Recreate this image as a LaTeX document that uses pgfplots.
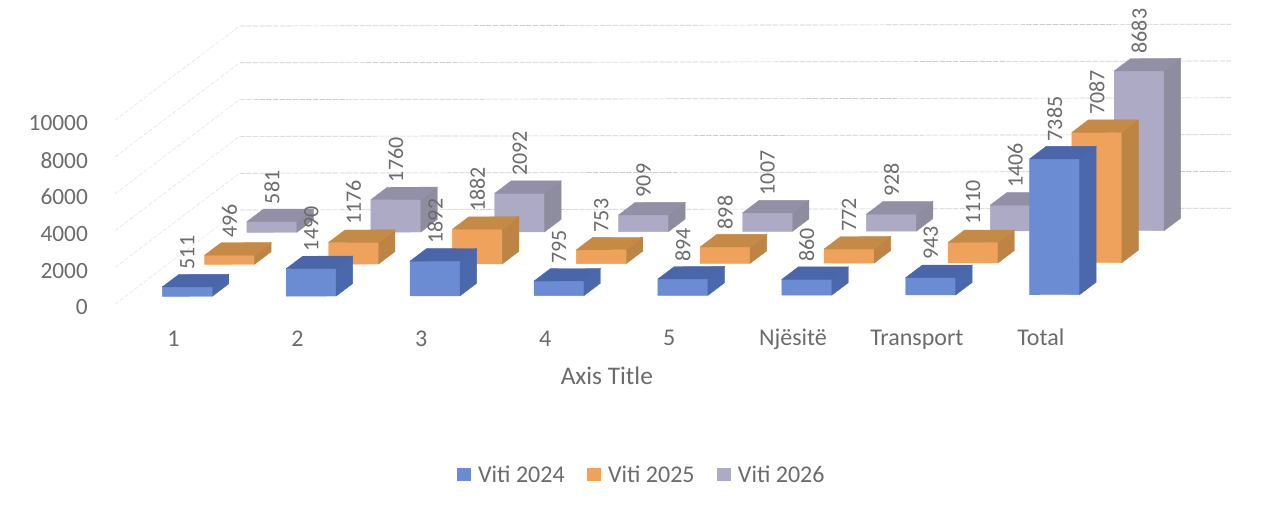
\documentclass[border=0pt]{standalone}
\usepackage{fontspec}
\setmainfont{Carlito}
\usepackage{pgfplots}
\usepackage{pgfplotstable}
\pgfplotsset{compat=1.18}

\definecolor{txt}{HTML}{6B6B6B}
% front, top and side colour of each series
\definecolor{front0}{HTML}{6B8CD2}
\definecolor{top0}{HTML}{4A65A8}
\definecolor{side0}{HTML}{4B68AC}
\definecolor{front1}{HTML}{EFA25B}
\definecolor{top1}{HTML}{C58A46}
\definecolor{side1}{HTML}{BE8444}
\definecolor{front2}{HTML}{ACAAC4}
\definecolor{top2}{HTML}{928FA6}
\definecolor{side2}{HTML}{8E8C9F}

\pgfplotstableread{
idx  s0    s1    s2
0    511   496   581
1    1490  1176  1760
2    1892  1882  2092
3    795   753   909
4    894   898   1007
5    860   772   928
6    943   1110  1406
7    7385  7087  8683
}\datatable

% one bar: series, category, value
\newcommand\barbox[3]{%
  \pgfmathsetmacro\xa{#2-0.2017}%
  \pgfmathsetmacro\xb{#2+0.2017}%
  \pgfmathsetmacro\ya{#1}%
  \pgfmathsetmacro\yb{#1+0.39}%
  \edef\temp{%
    \noexpand\addplot3[forget plot,no marks,fill=front#1,draw=front#1,line width=0.3pt]
      coordinates {(\xa,\ya,0) (\xb,\ya,0) (\xb,\ya,#3) (\xa,\ya,#3) (\xa,\ya,0)};
    \noexpand\addplot3[forget plot,no marks,fill=side#1,draw=side#1,line width=0.3pt]
      coordinates {(\xb,\ya,0) (\xb,\yb,0) (\xb,\yb,#3) (\xb,\ya,#3) (\xb,\ya,0)};
    \noexpand\addplot3[forget plot,no marks,fill=top#1,draw=top#1,line width=0.3pt]
      coordinates {(\xa,\ya,#3) (\xb,\ya,#3) (\xb,\yb,#3) (\xa,\yb,#3) (\xa,\ya,#3)};
  }\temp
}

\begin{document}
\begin{tikzpicture}
\useasboundingbox (0,0) rectangle (947.25pt,381pt);
\begin{axis}[
  at={(140.475pt,158.775pt)}, anchor=origin,
  x={(92.925pt,0.17pt)}, y={(31.725pt,24pt)}, z={(0pt,0.0138pt)},
  xmin=-0.5, xmax=7.5, ymin=-0.24, ymax=2.7, zmin=0, zmax=10000,
  clip=false,
  axis line style={draw=none},
  tick style={draw=none},
  ytick=\empty,
  xtick={0,...,7},
  xticklabels={1,2,3,4,5,Njësitë,Transport,Total},
  ztick={0,2000,4000,6000,8000,10000},
  scaled z ticks=false,
  /pgf/number format/assume math mode=true,
  /pgf/number format/1000 sep={},
  xticklabel style={anchor=north,xshift=-2.75pt,yshift=-16.5pt,
    text height=12pt,text depth=3pt,
    font=\fontsize{18pt}{20pt}\selectfont,text=txt},
  zticklabel style={anchor=east,xshift=-17pt,yshift=-2.5pt,
    font=\fontsize{17.5pt}{20pt}\selectfont,text=txt},
  xlabel={Axis Title},
  xlabel style={font=\fontsize{19pt}{21pt}\selectfont,text=txt,xshift=25.5pt,yshift=3pt},
  legend columns=3,
  legend style={draw=none,fill=none,at={(0.5,-0.35)},anchor=north,
    xshift=-23pt,yshift=-43.5pt,
    font=\fontsize{18pt}{20pt}\selectfont,text=txt,
    /tikz/every odd column/.append style={column sep=3.5pt},
    /tikz/every even column/.append style={column sep=15pt}},
  legend image code/.code={\fill[draw=none,#1] (0pt,-4.5pt) rectangle (10pt,5.5pt);},
]
\addlegendimage{draw=none,fill=front0}\addlegendentry{Viti 2024}
\addlegendimage{draw=none,fill=front1}\addlegendentry{Viti 2025}
\addlegendimage{draw=none,fill=front2}\addlegendentry{Viti 2026}

% walls
\pgfplotsinvokeforeach{0,2000,4000,6000,8000,10000}{
  \addplot3[forget plot,no marks,black!10,line width=0.5pt,dash pattern=on 3pt off 1.5pt]
    coordinates {(-0.5,-0.24,#1) (-0.5,2.7,#1)};
  \addplot3[forget plot,no marks,black!20,line width=0.5pt,dash pattern=on 4pt off 1pt]
    coordinates {(-0.5,2.7,#1) (7.5,2.7,#1)};
}

% bars, back row first
\pgfplotsinvokeforeach{2,1,0}{
  \pgfplotsforeachungrouped \i in {0,...,7}{
    \pgfplotstablegetelem{\i}{s#1}\of\datatable
    \barbox{#1}{\i}{\pgfplotsretval}
  }
}

% value labels
\pgfplotsinvokeforeach{0,1,2}{
  \addplot3[forget plot,draw=none,no marks,point meta=z,
    nodes near coords,
    nodes near coords style={rotate=90,anchor=west,inner sep=0pt,xshift=13pt,
      font=\fontsize{16.5pt}{18pt}\selectfont,text=txt,
      /pgf/number format/fixed,/pgf/number format/precision=0}]
    table[x=idx,y expr=#1,z=s#1] {\datatable};
}
\end{axis}
\end{tikzpicture}
\end{document}
